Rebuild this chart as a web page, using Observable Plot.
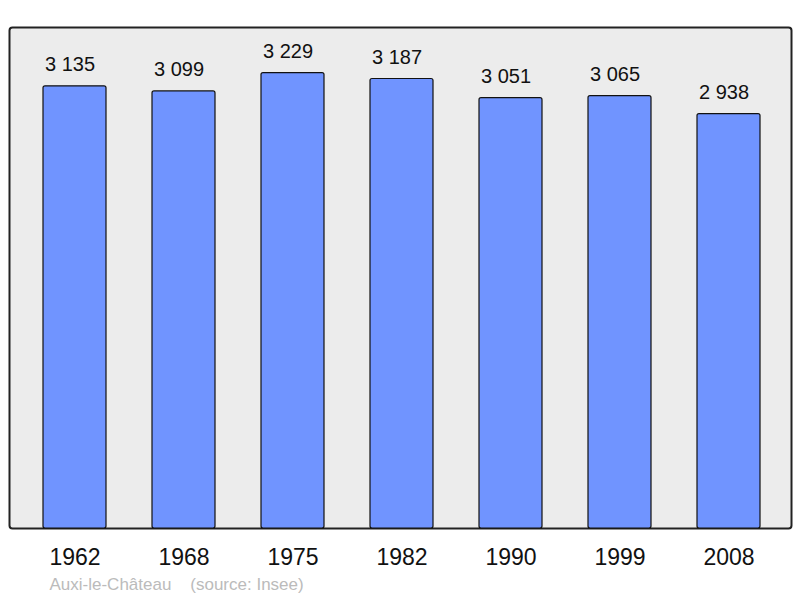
<!DOCTYPE html>
<html>
<head>
<meta charset="utf-8">
<script src="https://cdn.jsdelivr.net/npm/d3@7"></script>
<script src="https://cdn.jsdelivr.net/npm/@observablehq/plot@0.6"></script>
<style>
  html, body { margin: 0; padding: 0; background: #fff; }
  #chart svg { display: block; font-family: "Liberation Sans", Arial, sans-serif; }
  #chart svg text { white-space: pre; }
</style>
</head>
<body>
<div id="chart"></div>
<script>
const years = ["1962", "1968", "1975", "1982", "1990", "1999", "2008"];
const population = [3135, 3099, 3229, 3187, 3051, 3065, 2938];
const caption = "Auxi-le-Château    (source: Insee)";

const data = years.map((y, i) => ({year: y, pop: population[i]}));
const fmt = d3.formatLocale({thousands: " ", grouping: [3], decimal: ","}).format(",d");

const chart = Plot.plot({
  width: 800,
  height: 598,
  marginTop: 27,
  marginBottom: 70,
  marginLeft: 9,
  marginRight: 9,
  style: {fontFamily: "Liberation Sans, Arial, sans-serif", background: "#fff"},
  x: {domain: years, paddingInner: 0.4245, paddingOuter: 0.284, align: 0.526, label: null},
  y: {domain: [0, 3552], axis: null},
  marks: [
    Plot.frame({fill: "#ececec", stroke: "#222", strokeWidth: 2, rx: 3}),
    Plot.barY(data, {x: "year", y: "pop", fill: "#7094ff", stroke: "#111", strokeWidth: 1.2, rx: 2}),
    Plot.text(data, {x: "year", y: "pop", text: d => fmt(d.pop), lineAnchor: "bottom", dx: -5, dy: -15, fontSize: 20, fill: "#111"}),
    Plot.axisX({tickSize: 0, tickPadding: 20.5, fontSize: 23, color: "#111", label: null}),
    Plot.text([caption], {frameAnchor: "bottom-left", text: d => d, dx: 40, dy: 61, lineAnchor: "bottom", textAnchor: "start", fontSize: 17, fill: "#bbbbbb"})
  ]
});
document.getElementById("chart").appendChild(chart);
</script>
</body>
</html>
